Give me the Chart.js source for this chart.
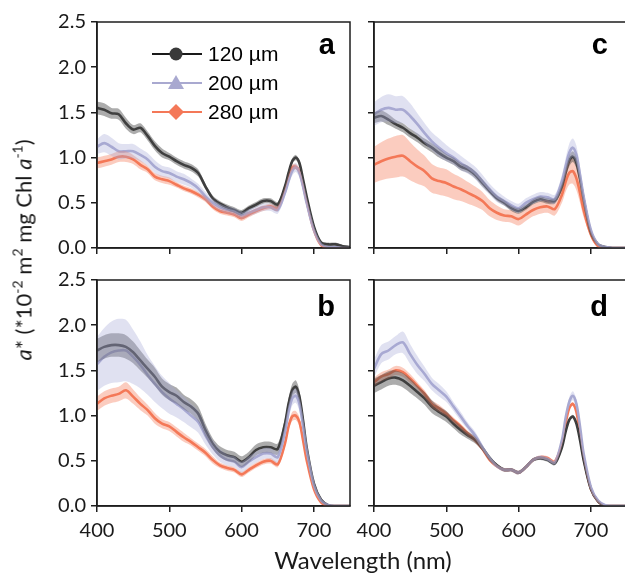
<!DOCTYPE html>
<html>
<head>
<meta charset="utf-8">
<script src="https://cdn.jsdelivr.net/npm/chart.js@4.4.1/dist/chart.umd.min.js"></script>
<style>
  html, body { margin: 0; padding: 0; background: #fff; overflow: hidden; }
  body { width: 625px; height: 576px; position: relative; }
  canvas { position: absolute; }
  .ytitle {
    position: absolute; left: 23px; top: 250px; width: 400px; margin-left: -200px;
    text-align: center; transform: translate(0, -50%) rotate(-90deg);
    font-family: Lato, sans-serif; font-size: 22px; color: #1a1a1a; white-space: nowrap;
  }
  .ytitle sup { font-size: 14px; vertical-align: 9px; line-height: 0; }
  .xtitle {
    position: absolute; left: 263px; top: 545px; width: 200px; text-align: center;
    font-family: Lato, sans-serif; font-size: 24px; color: #1a1a1a;
  }
</style>
</head>
<body>
<canvas id="pa" width="360" height="270" style="left:0;top:0"></canvas>
<canvas id="pc" width="300" height="270" style="left:340px;top:0"></canvas>
<canvas id="pb" width="360" height="316" style="left:0;top:260px"></canvas>
<canvas id="pd" width="300" height="316" style="left:340px;top:260px"></canvas>
<div class="ytitle"><i>a</i>* (*10<sup>-2</sup> m<sup>2</sup> mg Chl <i>a</i><sup>-1</sup>)</div>
<div class="xtitle">Wavelength (nm)</div>
<script>
// --- data ---
const wavelengths = [400,410,420,430,440,450,460,470,480,490,500,510,520,530,540,550,560,570,580,590,600,610,620,630,640,650,660,
                     665,670,675,680,685,690,700,710,720,730,740,750];
const xTicks = [400, 500, 600, 700];
const yTicks = [0, 0.5, 1.0, 1.5, 2.0, 2.5];
const seriesNames = ['120 \u00b5m', '200 \u00b5m', '280 \u00b5m'];

// panel a
const a120 = [1.55,1.53,1.49,1.48,1.38,1.31,1.33,1.24,1.13,1.05,1.01,0.96,0.92,0.89,0.83,0.68,0.55,0.49,0.45,0.42,0.39,0.44,0.48,0.52,0.52,0.48,0.68,
              0.83,0.96,1.00,0.94,0.76,0.57,0.24,0.06,0.04,0.04,0.02,0.01];
const a120sd = [0.07,0.07,0.06,0.06,0.06,0.05,0.05,0.05,0.05,0.05,0.04,0.04,0.04,0.04,0.04,0.03,0.03,0.03,0.03,0.03,0.03,0.03,0.03,0.03,0.03,0.03,0.03,
                0.03,0.03,0.03,0.03,0.03,0.03,0.02,0.02,0.02,0.02,0.01,0.01];
const a200 = [1.12,1.16,1.12,1.07,1.07,1.07,1.03,0.98,0.90,0.85,0.83,0.79,0.76,0.72,0.66,0.57,0.50,0.45,0.42,0.40,0.36,0.39,0.42,0.45,0.45,0.42,0.61,
              0.74,0.85,0.89,0.83,0.68,0.50,0.20,0.04,0.01,0.01,0.00,0.00];
const a200sd = [0.08,0.10,0.10,0.09,0.08,0.08,0.07,0.07,0.07,0.06,0.06,0.06,0.06,0.05,0.05,0.05,0.04,0.04,0.04,0.04,0.04,0.04,0.04,0.04,0.04,0.04,0.04,
                0.04,0.05,0.05,0.05,0.04,0.04,0.02,0.01,0.01,0.01,0.01,0.01];
const a280 = [0.94,0.96,0.98,1.01,1.01,0.98,0.92,0.87,0.79,0.76,0.74,0.70,0.66,0.63,0.59,0.54,0.46,0.41,0.39,0.37,0.33,0.37,0.41,0.44,0.46,0.44,0.65,
              0.79,0.89,0.90,0.85,0.70,0.52,0.20,0.03,0.00,0.00,0.00,0.00];
const a280sd = [0.06,0.06,0.06,0.06,0.06,0.05,0.05,0.04,0.04,0.04,0.04,0.03,0.03,0.03,0.03,0.03,0.03,0.03,0.03,0.03,0.03,0.03,0.03,0.03,0.03,0.03,0.03,
                0.03,0.03,0.03,0.03,0.03,0.03,0.02,0.01,0.01,0.01,0.01,0.01];

// panel b
const b120 = [1.72,1.76,1.78,1.78,1.76,1.70,1.61,1.52,1.43,1.32,1.26,1.22,1.15,1.10,1.02,0.84,0.69,0.60,0.56,0.54,0.49,0.54,0.62,0.65,0.65,0.63,0.91,
              1.13,1.28,1.32,1.21,0.95,0.65,0.25,0.07,0.01,0.00,0.00,0.00];
const b120sd = [0.13,0.13,0.13,0.13,0.13,0.12,0.11,0.10,0.10,0.09,0.09,0.09,0.08,0.08,0.08,0.07,0.06,0.06,0.06,0.06,0.06,0.06,0.06,0.06,0.06,0.06,0.06,
                0.06,0.07,0.07,0.07,0.06,0.05,0.03,0.02,0.01,0.01,0.01,0.01];
const b200 = [1.57,1.65,1.70,1.72,1.72,1.65,1.56,1.45,1.35,1.26,1.19,1.13,1.07,1.00,0.93,0.78,0.65,0.56,0.51,0.49,0.43,0.49,0.54,0.58,0.58,0.54,0.82,
              1.04,1.19,1.22,1.13,0.89,0.62,0.23,0.06,0.01,0.00,0.00,0.00];
const b200sd = [0.30,0.32,0.34,0.35,0.34,0.30,0.26,0.22,0.20,0.18,0.17,0.15,0.14,0.13,0.12,0.10,0.08,0.07,0.06,0.06,0.06,0.06,0.06,0.06,0.06,0.06,0.07,
                0.08,0.08,0.08,0.08,0.07,0.06,0.04,0.02,0.01,0.01,0.01,0.01];
const b280 = [1.13,1.19,1.22,1.24,1.28,1.21,1.13,1.06,0.97,0.91,0.88,0.82,0.76,0.71,0.65,0.59,0.51,0.45,0.42,0.40,0.35,0.40,0.45,0.49,0.50,0.46,0.69,
              0.88,0.99,1.00,0.93,0.73,0.51,0.19,0.04,0.00,0.00,0.00,0.00];
const b280sd = [0.08,0.08,0.08,0.08,0.09,0.08,0.07,0.06,0.06,0.05,0.05,0.05,0.05,0.04,0.04,0.04,0.04,0.03,0.03,0.03,0.03,0.03,0.03,0.03,0.03,0.03,0.04,
                0.04,0.05,0.05,0.05,0.04,0.03,0.02,0.01,0.01,0.00,0.00,0.00];

// panel c
const c120 = [1.44,1.46,1.42,1.37,1.33,1.27,1.22,1.16,1.11,1.05,1.00,0.96,0.90,0.87,0.81,0.72,0.63,0.55,0.50,0.44,0.41,0.45,0.51,0.54,0.52,0.52,0.68,
              0.83,0.96,1.01,0.94,0.76,0.54,0.17,0.04,0.01,0.00,0.00,0.00];
const c120sd = [0.06,0.06,0.06,0.05,0.05,0.05,0.05,0.05,0.05,0.05,0.04,0.04,0.04,0.04,0.04,0.04,0.03,0.03,0.03,0.03,0.03,0.03,0.03,0.03,0.03,0.03,0.04,
                0.05,0.06,0.06,0.06,0.05,0.04,0.02,0.01,0.01,0.00,0.00,0.00];
const c200 = [1.48,1.53,1.55,1.53,1.53,1.46,1.37,1.27,1.18,1.11,1.05,1.00,0.94,0.89,0.83,0.74,0.65,0.57,0.52,0.47,0.44,0.50,0.54,0.57,0.56,0.54,0.74,
              0.90,1.05,1.11,1.03,0.81,0.57,0.20,0.04,0.01,0.00,0.00,0.00];
const c200sd = [0.13,0.14,0.15,0.15,0.15,0.14,0.12,0.11,0.10,0.10,0.09,0.08,0.08,0.07,0.07,0.07,0.06,0.06,0.05,0.05,0.05,0.05,0.05,0.05,0.05,0.05,0.07,
                0.09,0.10,0.10,0.10,0.09,0.07,0.03,0.01,0.01,0.01,0.00,0.00];
const c280 = [0.92,0.96,0.99,1.01,1.02,0.96,0.90,0.85,0.77,0.74,0.72,0.68,0.65,0.61,0.57,0.52,0.44,0.39,0.36,0.35,0.32,0.37,0.42,0.45,0.46,0.43,0.59,
              0.73,0.83,0.85,0.77,0.61,0.42,0.15,0.02,0.00,0.00,0.00,0.00];
const c280sd = [0.20,0.21,0.22,0.23,0.23,0.21,0.19,0.17,0.16,0.15,0.15,0.14,0.13,0.12,0.11,0.10,0.09,0.08,0.07,0.07,0.07,0.07,0.07,0.07,0.07,0.07,0.09,
                0.11,0.13,0.14,0.13,0.11,0.08,0.03,0.01,0.00,0.00,0.00,0.00];

// panel d
const d120 = [1.33,1.37,1.41,1.42,1.39,1.33,1.26,1.19,1.10,1.04,0.99,0.91,0.84,0.78,0.73,0.64,0.53,0.45,0.40,0.40,0.37,0.43,0.51,0.53,0.51,0.47,0.65,
              0.82,0.95,0.99,0.91,0.73,0.51,0.19,0.05,0.00,0.00,0.00,0.00];
const d120sd = [0.08,0.08,0.08,0.08,0.08,0.08,0.07,0.07,0.07,0.06,0.06,0.05,0.05,0.04,0.04,0.03,0.03,0.02,0.02,0.02,0.02,0.02,0.02,0.02,0.02,0.02,0.02,
                0.02,0.02,0.02,0.02,0.02,0.02,0.01,0.01,0.00,0.00,0.00,0.00];
const d200 = [1.52,1.68,1.72,1.78,1.81,1.68,1.56,1.46,1.35,1.28,1.21,1.10,0.99,0.88,0.78,0.65,0.53,0.44,0.40,0.40,0.37,0.43,0.51,0.54,0.52,0.48,0.73,
              0.97,1.15,1.22,1.13,0.88,0.58,0.21,0.06,0.01,0.00,0.00,0.00];
const d200sd = [0.10,0.10,0.10,0.10,0.12,0.11,0.10,0.08,0.07,0.07,0.06,0.05,0.05,0.04,0.04,0.03,0.02,0.02,0.02,0.02,0.02,0.02,0.02,0.02,0.02,0.02,0.03,
                0.04,0.05,0.05,0.05,0.04,0.03,0.02,0.01,0.00,0.00,0.00,0.00];
const d280 = [1.37,1.43,1.46,1.50,1.48,1.41,1.33,1.24,1.13,1.08,1.02,0.95,0.88,0.80,0.73,0.63,0.51,0.44,0.40,0.40,0.37,0.43,0.51,0.54,0.53,0.49,0.69,
              0.91,1.08,1.13,1.04,0.80,0.53,0.19,0.05,0.00,0.00,0.00,0.00];
const d280sd = [0.05,0.05,0.05,0.05,0.05,0.05,0.04,0.04,0.04,0.04,0.03,0.03,0.03,0.03,0.03,0.02,0.02,0.02,0.02,0.02,0.02,0.02,0.02,0.02,0.02,0.02,0.02,
                0.02,0.02,0.02,0.02,0.02,0.02,0.01,0.01,0.00,0.00,0.00,0.00];

// --- styles ---
const lineColors = ['#3a3a3a', '#a9a9d0', '#f47858'];
const bandColors = ['rgba(70,70,70,0.45)', 'rgba(165,168,215,0.35)', 'rgba(244,120,88,0.38)'];
const drawOrder = [1, 0, 2];   // purple at back, coral on top
const tickFont = { family: 'Lato, sans-serif', size: 20 };
const axisColor = '#1e1e1e';

function pts(vals, sd, sign) {
    return wavelengths.map((w, i) => ({ x: w, y: vals[i] + sign * sd[i] }));
}

function buildDatasets(means, sds) {
    const sets = [];
    drawOrder.forEach(k => {
        sets.push({ data: pts(means[k], sds[k], -1), borderWidth: 0, pointRadius: 0, fill: false, tension: 0.3 });
        sets.push({ data: pts(means[k], sds[k], 1), borderWidth: 0, pointRadius: 0, fill: '-1',
                    backgroundColor: bandColors[k], tension: 0.3 });
    });
    drawOrder.forEach(k => {
        sets.push({ data: pts(means[k], sds[k], 0), borderColor: lineColors[k], borderWidth: 2.6,
                    pointRadius: 0, fill: false, tension: 0.3 });
    });
    return sets;
}

// frame + panel letter + legend
const panelDecor = {
    id: 'panelDecor',
    afterDraw(chart, args, opts) {
        const ctx = chart.ctx;
        const ca = chart.chartArea;
        ctx.save();
        ctx.strokeStyle = axisColor;
        ctx.lineWidth = 1.5;
        ctx.strokeRect(ca.left, ca.top, ca.right - ca.left, ca.bottom - ca.top);
        ctx.fillStyle = '#000';
        ctx.font = 'bold 29px "Liberation Sans", Arial, sans-serif';
        ctx.textAlign = 'right';
        ctx.textBaseline = 'alphabetic';
        ctx.fillText(opts.letter, ca.left + opts.letterX, ca.top + opts.letterY);
        if (opts.legend) {
            ctx.font = '21px "Liberation Sans", Arial, sans-serif';
            ctx.textAlign = 'left';
            ctx.textBaseline = 'middle';
            const rowY = [54, 83, 112];
            [0, 1, 2].forEach(k => {
                const y = rowY[k] - 22 + ca.top;
                const x0 = ca.left + 55, x1 = ca.left + 105, xm = ca.left + 79;
                ctx.strokeStyle = k === 0 ? '#1a1a1a' : lineColors[k];
                ctx.lineWidth = 2;
                ctx.beginPath(); ctx.moveTo(x0, y); ctx.lineTo(x1, y); ctx.stroke();
                ctx.fillStyle = lineColors[k];
                ctx.beginPath();
                if (k === 0) {
                    ctx.arc(xm, y, 6.5, 0, Math.PI * 2);
                } else if (k === 1) {
                    ctx.moveTo(xm, y - 8); ctx.lineTo(xm + 8, y + 6); ctx.lineTo(xm - 8, y + 6); ctx.closePath();
                } else {
                    ctx.moveTo(xm, y - 8); ctx.lineTo(xm + 8, y); ctx.lineTo(xm, y + 8); ctx.lineTo(xm - 8, y); ctx.closePath();
                }
                ctx.fill();
                ctx.fillStyle = '#000';
                ctx.fillText(seriesNames[k], ca.left + 111, y + 1);
            });
        }
        ctx.restore();
    }
};

function makePanel(id, means, sds, cfg) {
    const ctx = document.getElementById(id).getContext('2d');
    return new Chart(ctx, {
        type: 'line',
        data: { datasets: buildDatasets(means, sds) },
        plugins: [panelDecor],
        options: {
            responsive: false,
            animation: false,
            layout: { padding: cfg.padding },
            plugins: {
                legend: { display: false },
                tooltip: { enabled: false },
                panelDecor: { letter: cfg.letter, letterX: cfg.letterX, letterY: cfg.letterY, legend: cfg.legend }
            },
            scales: {
                x: {
                    type: 'linear', min: 400, max: 750,
                    afterBuildTicks: s => { s.ticks = xTicks.map(v => ({ value: v })); },
                    afterFit: s => { s.height = cfg.xHeight; },
                    border: { display: true, color: axisColor, width: 1.5 },
                    grid: { display: true, drawOnChartArea: false, drawTicks: true, tickLength: 6, color: axisColor, lineWidth: 1.5 },
                    ticks: {
                        font: tickFont, color: '#1a1a1a', padding: 7, maxRotation: 0,
                        callback: v => cfg.xLabels ? String(v) : ''
                    }
                },
                y: {
                    type: 'linear', min: 0, max: 2.5,
                    afterBuildTicks: s => { s.ticks = yTicks.map(v => ({ value: v })); },
                    afterFit: s => { s.width = cfg.yWidth; },
                    border: { display: true, color: axisColor, width: 1.5 },
                    grid: { display: true, drawOnChartArea: false, drawTicks: true, tickLength: 6, color: axisColor, lineWidth: 1.5 },
                    ticks: {
                        font: tickFont, color: '#1a1a1a', padding: 5,
                        callback: v => cfg.yLabels ? v.toFixed(1) : ''
                    }
                }
            }
        }
    });
}

makePanel('pa', [a120, a200, a280], [a120sd, a200sd, a280sd],
    { padding: { top: 22, right: 10, left: 0, bottom: 0 }, xHeight: 22, yWidth: 97,
      xLabels: false, yLabels: true, letter: 'a', letterX: 238, letterY: 32, legend: true });
makePanel('pc', [c120, c200, c280], [c120sd, c200sd, c280sd],
    { padding: { top: 22, right: 13, left: 0, bottom: 0 }, xHeight: 22, yWidth: 34,
      xLabels: false, yLabels: false, letter: 'c', letterX: 234, letterY: 32, legend: false });
makePanel('pb', [b120, b200, b280], [b120sd, b200sd, b280sd],
    { padding: { top: 20, right: 10, left: 0, bottom: 30 }, xHeight: 40, yWidth: 97,
      xLabels: true, yLabels: true, letter: 'b', letterX: 238, letterY: 36, legend: false });
makePanel('pd', [d120, d200, d280], [d120sd, d200sd, d280sd],
    { padding: { top: 20, right: 13, left: 0, bottom: 30 }, xHeight: 40, yWidth: 34,
      xLabels: true, yLabels: false, letter: 'd', letterX: 234, letterY: 36, legend: false });
</script>
</body>
</html>
